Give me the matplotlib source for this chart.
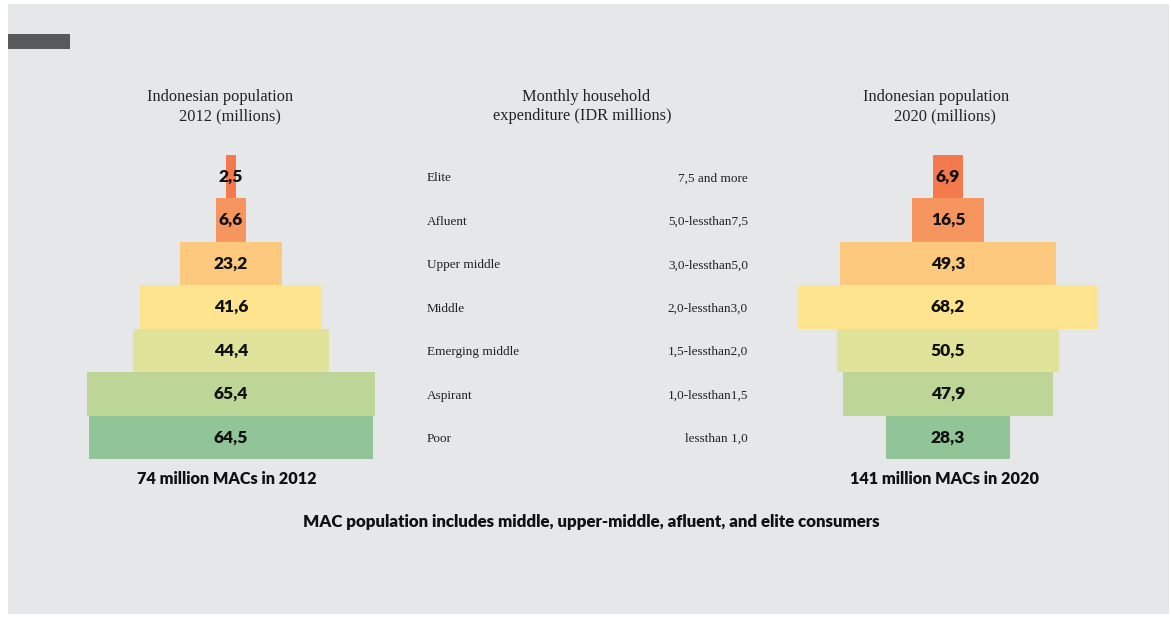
import matplotlib.pyplot as plt
from matplotlib.patches import Rectangle

# data (top to bottom)
segments = ['Elite', 'Afluent', 'Upper middle', 'Middle', 'Emerging middle', 'Aspirant', 'Poor']
spend_ranges = ['7,5 and more', '5,0-lessthan7,5', '3,0-lessthan5,0', '2,0-lessthan3,0',
                '1,5-lessthan2,0', '1,0-lessthan1,5', 'lessthan 1,0']
pop_2012 = [2.5, 6.6, 23.2, 41.6, 44.4, 65.4, 64.5]
pop_2020 = [6.9, 16.5, 49.3, 68.2, 50.5, 47.9, 28.3]
colors = ['#F47A4E', '#F6955E', '#FDC97E', '#FFE48F', '#E2E39B', '#BED598', '#91C497']

W, H = 1171, 617
fig = plt.figure(figsize=(W / 100, H / 100), dpi=100, facecolor='white')

# grey panel and dark tab
fig.patches.append(Rectangle((8 / W, 1 - 614 / H), (1169 - 8) / W, (614 - 4) / H,
                             transform=fig.transFigure, facecolor='#E6E7E9', edgecolor='none', zorder=-2))
fig.patches.append(Rectangle((8 / W, 1 - 49 / H), 62 / W, 15 / H,
                             transform=fig.transFigure, facecolor='#58595B', edgecolor='none', zorder=-1))

serif = 'Liberation Serif'
bold = 'Lato'


def fx(px):
    return px / W


def fy(py):
    return 1 - py / H


def pyramid(cx, values):
    # 300 px wide axes, rows between y=155 and y=459
    ax = fig.add_axes([fx(cx - 150), fy(459), fx(300), 304 / H])
    ax.set_xlim(-34.1, 34.1)
    ax.set_ylim(len(values) - 0.5, -0.5)
    ys = range(len(values))
    ax.barh(ys, values, left=[-v / 2 for v in values], height=1.0, color=colors, edgecolor='none')
    for y, v in zip(ys, values):
        ax.text(0, y, f'{v:.1f}'.replace('.', ','), ha='center', va='center',
                fontsize=12.5, fontweight='heavy', family=bold, color='#111111')
    ax.axis('off')
    ax.patch.set_alpha(0)
    return ax


pyramid(231, pop_2012)
pyramid(948, pop_2020)

# titles
tkw = dict(ha='center', va='center', fontsize=11.8, family=serif, color='#222222')
fig.text(fx(220), fy(97), 'Indonesian population', **tkw)
fig.text(fx(230), fy(116), '2012 (millions)', **tkw)
fig.text(fx(586), fy(97), 'Monthly household', **tkw)
fig.text(fx(582), fy(116), 'expenditure (IDR millions)', **tkw)
fig.text(fx(936), fy(97), 'Indonesian population', **tkw)
fig.text(fx(945), fy(116), '2020 (millions)', **tkw)

# middle column: segment names and spending ranges
mid = fig.add_axes([fx(400), fy(459), fx(380), 304 / H])
mid.set_xlim(400, 780)
mid.set_ylim(len(segments) - 0.5, -0.5)
mid.axis('off')
mid.patch.set_alpha(0)
for i, (s, r) in enumerate(zip(segments, spend_ranges)):
    mid.text(427, i + 0.04, s, ha='left', va='center', fontsize=9.5, family=serif, color='#222222')
    mid.text(748, i + 0.04, r, ha='right', va='center', fontsize=9.5, family=serif, color='#222222')

# footers
fig.text(fx(227), fy(479), '74 million MACs in 2012', ha='center', va='center',
         fontsize=11.7, fontweight='heavy', family=bold, color='#111111')
fig.text(fx(945), fy(479), '141 million MACs in 2020', ha='center', va='center',
         fontsize=11.7, fontweight='heavy', family=bold, color='#111111')
fig.text(fx(591), fy(522), 'MAC population includes middle, upper-middle, afluent, and elite consumers',
         ha='center', va='center', fontsize=12.2, fontweight='heavy', family=bold, color='#111111')

fig.savefig('out.png', dpi=100, facecolor='white')
